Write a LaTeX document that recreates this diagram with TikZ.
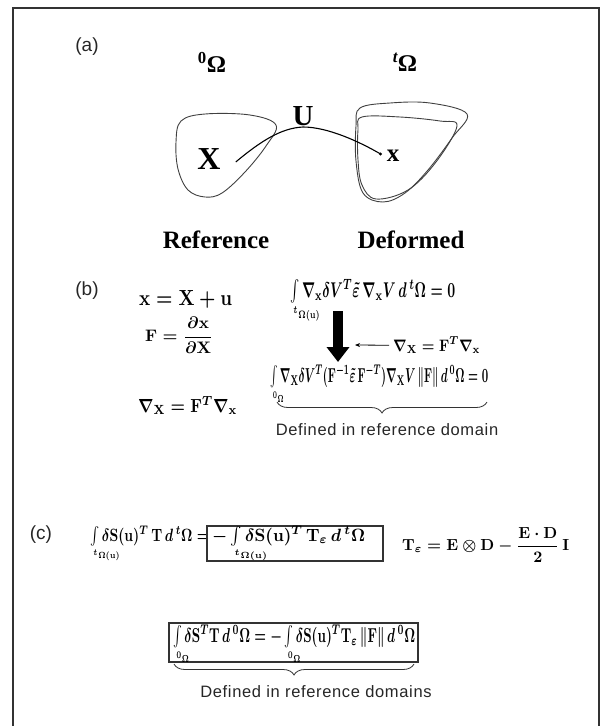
\documentclass[tikz,border=0pt]{standalone}
\usepackage{amsmath}
\usepackage{mathtools}
\usepackage{fontspec}
\setmainfont{Liberation Serif}
\setsansfont{Liberation Sans}
\usetikzlibrary{arrows.meta,decorations.pathreplacing}
\newcommand\fwh[3]{\resizebox{#1pt}{#2pt}{$#3$}}
\newcommand\bv[1]{\mathbf{#1}}
\newcommand\ilim[1]{\int\limits_{\mathrlap{\scriptscriptstyle #1}}}
\tikzset{
  frame/.style={line width=1.3pt, draw=black!80},
  lbl/.style={font=\sffamily\fontsize{19}{19}\selectfont, inner sep=0pt, text=black!85},
  title/.style={font=\bfseries\fontsize{24}{24}\selectfont, inner sep=0pt},
  capt/.style={font=\bfseries\fontsize{25}{25}\selectfont, inner sep=0pt},
  blob/.style={draw=black!75, line width=0.9pt},
  curve/.style={draw=black, line width=1.1pt},
  eq/.style={inner sep=0pt, font=\boldmath},
  note/.style={font=\sffamily\fontsize{16.5}{16.5}\selectfont\addfontfeatures{LetterSpace=4}, inner sep=0pt, text=black!85},
  bigarrow/.style={line width=10pt, -{Triangle[width=22pt,length=15pt]}},
  thinarrow/.style={line width=0.8pt, -{Stealth[length=5pt,width=4pt]}},
  brc/.style={decorate, decoration={brace, mirror, amplitude=11pt}, line width=0.8pt, draw=black!80},
  eqbox/.style={draw=black!80, line width=1.2pt, inner sep=0pt}
}
\begin{document}
\begin{tikzpicture}[x=1pt,y=-1pt]
\useasboundingbox (0,0) rectangle (601,726);
\draw[frame] (13,726) -- (13,8) -- (599,8) -- (599,726);

% ---------- (a)
\node[lbl] (la) at (87,47) {(a)};
\node[title] (o0) at (212,62) {\textsuperscript{0}Ω};
\node[title] (ot) at (405,62) {\textsuperscript{\itshape t}Ω};
\draw[blob] plot[smooth cycle, tension=0.6] coordinates {(181,121) (205,114) (250,115) (276,125) (266,146) (245,172) (222,193) (205,197) (188,190) (178,169) (176,142)};
\draw[blob] plot[smooth cycle, tension=0.6] coordinates {(360,108) (390,103) (430,103) (467,114) (452,138) (428,170) (405,193) (383,202) (363,193) (356,161) (356,126)};
\draw[blob] plot[smooth cycle, tension=0.6] coordinates {(362,117) (400,117) (440,121) (457,126) (436,162) (408,190) (376,199) (362,185) (358,160) (358,130)};
\node[font=\bfseries\fontsize{32}{32}\selectfont, inner sep=0pt] (X) at (209,159) {X};
\node[font=\bfseries\fontsize{25}{25}\selectfont, inner sep=0pt] (x) at (393,156) {x};
\coordinate (utop) at (303,127);
\draw[curve] ([xshift=15pt,yshift=-3pt]X.east) .. controls (262,140) and (282,128) .. (utop) .. controls (328,127) and (360,142) .. ([xshift=-6pt,yshift=2pt]x.west);
\fill ([xshift=-6pt,yshift=2pt]x.west) circle (1.6);
\node[font=\bfseries\fontsize{29}{29}\selectfont, inner sep=0pt, anchor=south] (U) at ([yshift=1pt]utop) {U};
\node[capt] (ref) at (216,240) {Reference};
\node[capt] (def) at (411,240) {Deformed};

% ---------- (b)
\node[lbl] (lb) at (87,291) {(b)};
\node[eq, anchor=base west] (b1) at (139,305) {\fwh{93}{15}{\bv x=\bv X+\bv u}};
\node[eq, anchor=base west] (b2) at (145,341) {\fwh{68}{24}{\bv F=\dfrac{\partial\bv x}{\partial\bv X}}};
\node[eq, anchor=base west] (b3) at (138,412) {\fwh{99}{16}{\nabla_{\bv X}=\bv F^{T}\nabla_{\bv x}}};
\node[eq, anchor=base west] (i1) at (290,297) {\fwh{165}{18}{\ilim{{}^{t}\Omega(\bv u)}\nabla_{\bv x}\delta V^{T}\tilde{\varepsilon}\,\nabla_{\bv x}V\,d\,{}^{t}\Omega=0}};
\coordinate (a1) at (338,311);
\coordinate (a2) at (338,362);
\draw[bigarrow] (a1) -- (a2);
\node[eq, anchor=base west] (rx) at (393,351) {\fwh{87}{14}{\nabla_{\bv X}=\bv F^{T}\nabla_{\bv x}}};
\coordinate (a3) at (355,345);
\draw[thinarrow] ([xshift=-4pt]rx.west) -- (a3);
\node[eq, anchor=base west] (i2) at (270,382) {\fwh{218}{17}{\ilim{{}^{0}\Omega}\nabla_{\bv X}\delta V^{T}(\bv F^{-1}\tilde{\varepsilon}\,\bv F^{-T})\nabla_{\bv X}V\,\|\bv F\|\,d\,{}^{0}\Omega=0}};
\coordinate (bl) at (277,402);
\coordinate (br) at (487,402);
\draw[brc] (bl) -- (br);
\node[note] (d1) at (387,430) {Defined in reference domain};

% ---------- (c)
\node[lbl] (lc) at (41,535) {(c)};
\node[eq, anchor=base west] (c1) at (90,541) {\fwh{119}{15}{\ilim{{}^{t}\Omega(\bv u)}\delta\bv S(\bv u)^{T}\,\bv T\,d\,{}^{t}\Omega=}};
\node[eqbox, minimum width=176pt, minimum height=35pt] (box1) at (295,543.5) {};
\node[eq, anchor=base west] (c2) at (212,541) {\fwh{153}{15}{-\ilim{{}^{t}\Omega(\bv u)}\delta\bv S(\bv u)^{T}\,\bv T_{\varepsilon}\,d\,{}^{t}\Omega}};
\node[eq, anchor=base west] (c3) at (402,550) {\fwh{167}{23}{\bv T_{\varepsilon}=\bv E\otimes\bv D-\dfrac{\bv E\cdot\bv D}{2}\,\bv I}};
\node[eqbox, minimum width=249pt, minimum height=39pt] (box2) at (293.5,642.5) {};
\node[eq, anchor=base west] (c4) at (173,642) {\fwh{242}{17}{\ilim{{}^{0}\Omega}\delta\bv S^{T}\bv T\,d\,{}^{0}\Omega=-\ilim{{}^{0}\Omega}\delta\bv S(\bv u)^{T}\bv T_{\varepsilon}\,\|\bv F\|\,d\,{}^{0}\Omega}};
\coordinate (cl) at (174,664);
\coordinate (cr) at (414,664);
\draw[brc] (cl) -- (cr);
\node[note] (d2) at (316,692) {Defined in reference domains};
\end{tikzpicture}
\end{document}
